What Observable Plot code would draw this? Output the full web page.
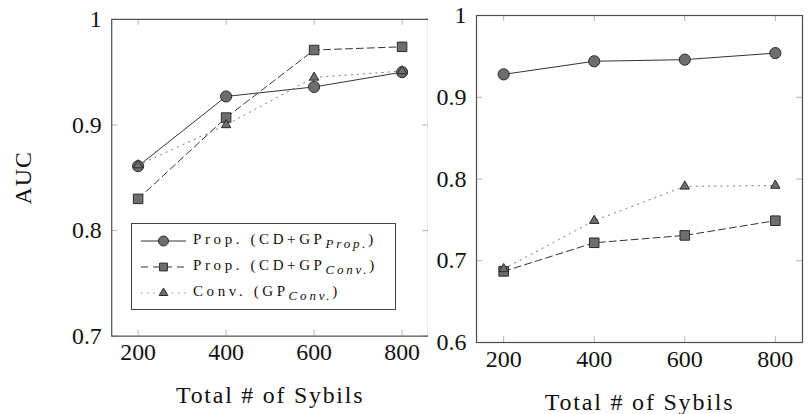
<!DOCTYPE html>
<html><head><meta charset="utf-8">
<script src="https://cdn.jsdelivr.net/npm/d3@7"></script>
<script src="https://cdn.jsdelivr.net/npm/@observablehq/plot@0.6"></script>
<style>
body{margin:0;background:#fff;}
#wrap{position:relative;width:809px;height:414px;overflow:hidden;background:#fff;font-family:'Liberation Serif','DejaVu Serif',serif;color:#111;}
#left{position:absolute;left:0;top:0;width:428px;height:414px;overflow:hidden;}
#right{position:absolute;left:428px;top:0;width:381px;height:414px;overflow:visible;}
#legend{position:absolute;left:131px;top:223px;width:265px;height:87px;border:1.3px solid #444;background:#fff;box-sizing:border-box;}
.lrow{position:absolute;left:0;height:26px;width:100%;}
.lrow svg{position:absolute;left:8px;top:0;}
.ltxt{position:absolute;left:61px;top:3px;font-size:15px;letter-spacing:3.6px;white-space:nowrap;line-height:16px;font-family:'Liberation Serif','DejaVu Serif',serif;}
.ltxt sub{font-style:italic;font-size:13px;letter-spacing:2.8px;vertical-align:-4px;line-height:0;}
svg text{font-family:'Liberation Serif','DejaVu Serif',serif;}
[aria-label="x-axis label"] text{letter-spacing:1.8px;}
[aria-label="y-axis label"] text{letter-spacing:1px;}
</style></head><body>
<div id="wrap"><div id="left"></div><div id="right"></div><div id="legend"></div></div>
<script>
// ---- data ----
const sybils = [200, 400, 600, 800];
const xTicks = [200, 400, 600, 800];
const leftYTicks = [0.7, 0.8, 0.9, 1];
const rightYTicks = [0.6, 0.7, 0.8, 0.9, 1];
const leftPropProp = [0.861, 0.927, 0.936, 0.950];
const leftPropConv = [0.830, 0.907, 0.971, 0.974];
const leftConvConv = [0.862, 0.900, 0.945, 0.951];
const rightPropProp = [0.928, 0.944, 0.946, 0.954];
const rightPropConv = [0.687, 0.722, 0.731, 0.749];
const rightConvConv = [0.690, 0.749, 0.791, 0.792];
const legendMain = ["Prop. (CD+GP", "Prop. (CD+GP", "Conv. (GP"];
const legendSub = ["Prop.", "Conv.", "Conv."];
const xLabel = "Total # of Sybils";
const yLabel = "AUC";

// ---- styles ----
const FONT = "'Liberation Serif', 'DejaVu Serif', serif";
const styles = [
  {symbol: "circle", r: 5.6, dash: null, stroke: "#333"},
  {symbol: "square", r: 5.4, dash: "7,4", stroke: "#333"},
  {symbol: "triangle", r: 3.5, dash: "1.2,5", stroke: "#777"}
];

function panel({width, marginLeft, marginRight, marginTop, marginBottom, yDomain, yTicks, series, showYLabel}) {
  const height = 414;
  const pw = width - marginLeft - marginRight;
  const ph = height - marginTop - marginBottom;
  const marks = [];
  const tickStroke = "#b5b5b5";
  marks.push(Plot.tickX(xTicks, {x: d => d, insetTop: ph - 6, stroke: tickStroke}));
  marks.push(Plot.tickX(xTicks, {x: d => d, insetBottom: ph - 6, stroke: tickStroke}));
  marks.push(Plot.tickY(yTicks, {y: d => d, insetRight: pw - 6, stroke: tickStroke}));
  marks.push(Plot.tickY(yTicks, {y: d => d, insetLeft: pw - 6, stroke: tickStroke}));
  series.forEach((vals, k) => {
    const st = styles[k];
    const rows = sybils.map((s, i) => ({x: s, y: vals[i]}));
    marks.push(Plot.line(rows, {x: "x", y: "y", stroke: st.stroke, strokeWidth: 1, strokeDasharray: st.dash}));
  });
  series.forEach((vals, k) => {
    const st = styles[k];
    const rows = sybils.map((s, i) => ({x: s, y: vals[i]}));
    marks.push(Plot.dot(rows, {x: "x", y: "y", symbol: st.symbol, r: st.r, fill: "#6e6e6e", stroke: "#2a2a2a", strokeWidth: 1}));
  });
  marks.push(Plot.frame({stroke: "#4d4d4d", strokeWidth: 1.2}));
  marks.push(Plot.axisX(xTicks, {anchor: "bottom", tickSize: 0, tickPadding: 7, fill: "#111",
    fontFamily: FONT, fontSize: 24,
    label: xLabel, labelAnchor: "center", labelArrow: "none", labelOffset: 67}));
  marks.push(Plot.axisY(yTicks, {anchor: "left", tickSize: 0, tickPadding: 10, fill: "#111",
    fontFamily: FONT, fontSize: 24, tickFormat: d => String(d),
    label: showYLabel ? yLabel : null, labelAnchor: "center", labelArrow: "none", labelOffset: 98}));
  return Plot.plot({
    width, height, marginLeft, marginRight, marginTop, marginBottom,
    x: {domain: [140, 860]},
    y: {domain: yDomain},
    style: {fontFamily: FONT, fontSize: "24px", color: "#111", background: "white", overflow: "visible"},
    marks
  });
}

document.getElementById("left").append(panel({
  width: 431, marginLeft: 112, marginRight: 0, marginTop: 19, marginBottom: 76,
  yDomain: [0.7, 1], yTicks: leftYTicks, series: [leftPropProp, leftPropConv, leftConvConv], showYLabel: true
}));
document.getElementById("right").append(panel({
  width: 381, marginLeft: 48, marginRight: 7, marginTop: 15, marginBottom: 72,
  yDomain: [0.6, 1], yTicks: rightYTicks, series: [rightPropProp, rightPropConv, rightConvConv], showYLabel: false
}));

// ---- legend ----
const legend = document.getElementById("legend");
const ns = "http://www.w3.org/2000/svg";
legendMain.forEach((txt, k) => {
  const st = styles[k];
  const row = document.createElement("div");
  row.className = "lrow";
  row.style.top = (4 + 26 * k) + "px";
  const svg = document.createElementNS(ns, "svg");
  svg.setAttribute("width", 48); svg.setAttribute("height", 26);
  const line = document.createElementNS(ns, "line");
  line.setAttribute("x1", 1); line.setAttribute("x2", 46);
  line.setAttribute("y1", 13); line.setAttribute("y2", 13);
  line.setAttribute("stroke", st.stroke);
  if (st.dash) line.setAttribute("stroke-dasharray", k === 1 ? "7,5" : "1.2,5");
  svg.append(line);
  const sym = document.createElementNS(ns, "path");
  const sizes = [Math.PI * 5 * 5, Math.PI * 4.4 * 4.4, Math.PI * 3.2 * 3.2];
  const types = [d3.symbolCircle, d3.symbolSquare, d3.symbolTriangle];
  sym.setAttribute("d", d3.symbol(types[k], sizes[k])());
  sym.setAttribute("transform", "translate(23.5,13)");
  sym.setAttribute("fill", "#6e6e6e"); sym.setAttribute("stroke", "#2a2a2a");
  svg.append(sym);
  row.append(svg);
  const t = document.createElement("div");
  t.className = "ltxt";
  t.append(document.createTextNode(txt));
  const sub = document.createElement("sub");
  sub.textContent = legendSub[k];
  t.append(sub);
  t.append(document.createTextNode(")"));
  row.append(t);
  legend.append(row);
});
</script>
</body></html>
